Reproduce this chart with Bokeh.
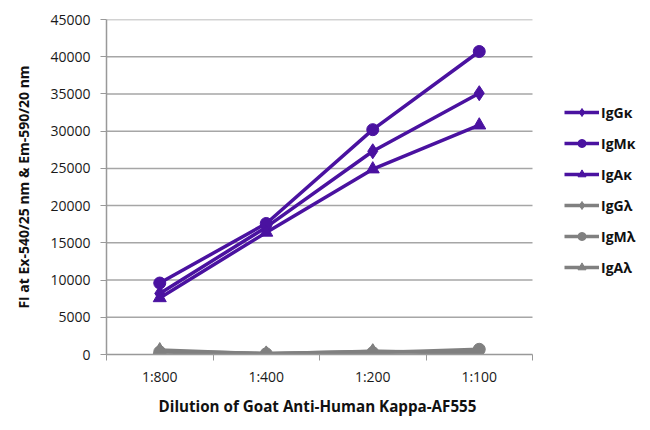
from bokeh.plotting import figure
from bokeh.models import Range1d, FixedTicker, Legend, LegendItem, Title
from bokeh.embed import file_html
from bokeh.resources import INLINE

categories = ["1:800", "1:400", "1:200", "1:100"]
igg_k = [8200, 17100, 27300, 35100]
igm_k = [9600, 17600, 30200, 40700]
iga_k = [7600, 16400, 24900, 30800]
igg_l = [450, 150, 400, 350]
igm_l = [350, 100, 250, 700]
iga_l = [600, 100, 450, 150]
y_ticks = list(range(0, 45001, 5000))

PURPLE = "#4a12a0"
GRAY = "#808080"
FONT = "Open Sans"

n = len(categories)
x = [i + 0.5 for i in range(n)]

# frame spans the full width so the legend (right of the data area) is not clipped
p = figure(width=642, height=422, output_backend="svg", toolbar_location=None,
           x_range=Range1d(0, n * 536 / 426), y_range=Range1d(0, 45000),
           min_border_left=106, min_border_right=0, min_border_top=19,
           min_border_bottom=68)
p.outline_line_color = None
p.background_fill_color = "white"
p.border_fill_color = "white"

# horizontal gridlines limited to the data area
p.segment(x0=[0] * len(y_ticks[1:]), x1=[n] * len(y_ticks[1:]),
          y0=y_ticks[1:], y1=y_ticks[1:], line_color="#a6a6a6", line_width=1.5)

series = [
    ("IgG\u03ba", igg_k, PURPLE, "diamond", 15),
    ("IgM\u03ba", igm_k, PURPLE, "circle", 12),
    ("IgA\u03ba", iga_k, PURPLE, "triangle", 13),
    ("IgG\u03bb", igg_l, GRAY, "diamond", 15),
    ("IgM\u03bb", igm_l, GRAY, "circle", 12),
    ("IgA\u03bb", iga_l, GRAY, "triangle", 13),
]

items = []
for name, vals, col, mk, sz in series:
    r1 = p.line(x, vals, line_color=col, line_width=3.5)
    r2 = p.scatter(x, vals, marker=mk, size=sz, fill_color=col, line_color=col)
    items.append(LegendItem(label=name, renderers=[r1, r2]))

# axes
p.xaxis.bounds = (0, n)
p.xaxis.ticker = FixedTicker(ticks=x, minor_ticks=list(range(0, n + 1)))
p.xaxis.major_label_overrides = {v: c for v, c in zip(x, categories)}
p.xaxis.major_tick_out = 0
p.xaxis.major_tick_in = 0
p.xaxis.minor_tick_out = 6
p.xaxis.minor_tick_in = 0
p.xaxis.minor_tick_line_color = "#999999"
p.xaxis.axis_line_color = "#999999"
p.xaxis.axis_line_width = 1.5
p.xaxis.major_label_text_font = FONT
p.xaxis.major_label_text_font_size = "14px"
p.xaxis.major_label_text_color = "#1a1a1a"
p.xaxis.major_label_standoff = 6

p.add_layout(Title(text="Dilution of Goat Anti-Human Kappa-AF555", align="left",
                   offset=52, standoff=10, text_font=FONT, text_font_style="bold",
                   text_font_size="15.2px", text_color="#111111"), "below")

p.yaxis.ticker = FixedTicker(ticks=y_ticks)
p.yaxis.minor_tick_line_color = None
p.yaxis.major_tick_out = 6
p.yaxis.major_tick_in = 0
p.yaxis.major_tick_line_color = "#999999"
p.yaxis.axis_line_color = "#999999"
p.yaxis.axis_line_width = 1.5
p.yaxis.major_label_text_font = FONT
p.yaxis.major_label_text_font_size = "14px"
p.yaxis.major_label_text_color = "#1a1a1a"
p.yaxis.major_label_standoff = 10
p.yaxis.axis_label = "FI at Ex-540/25 nm & Em-590/20 nm"
p.yaxis.axis_label_text_font = FONT
p.yaxis.axis_label_text_font_style = "bold"
p.yaxis.axis_label_text_font_size = "14px"
p.yaxis.axis_label_text_color = "#111111"
p.yaxis.axis_label_standoff = 14

p.xgrid.grid_line_color = None
p.ygrid.grid_line_color = None

legend = Legend(items=items, location=(458, 77), orientation="vertical",
                glyph_width=35, glyph_height=20, label_height=20,
                label_standoff=2, spacing=11, padding=10, margin=0,
                border_line_color=None, background_fill_alpha=0,
                label_text_font=FONT, label_text_font_style="bold",
                label_text_font_size="14px", label_text_color="#111111")
p.add_layout(legend, "center")

open("out.html", "w").write(file_html(p, INLINE))
